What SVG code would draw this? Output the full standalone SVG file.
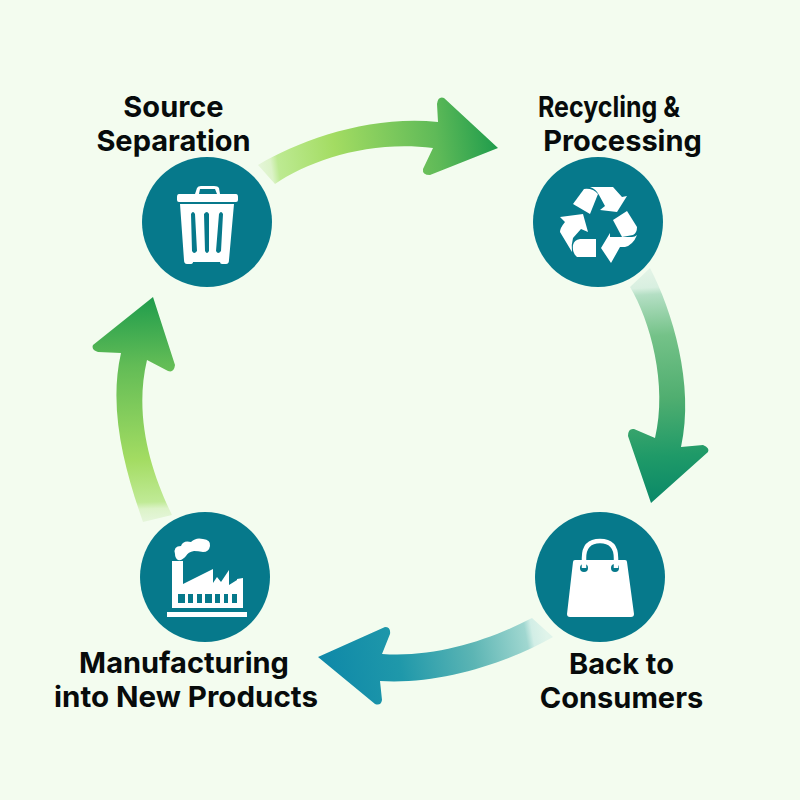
<svg xmlns="http://www.w3.org/2000/svg" width="800" height="800" viewBox="0 0 800 800">
<style>
.bg{fill:#f3fcef}
.disc{fill:#06798b}
.ic{fill:#fff}
.hole{fill:#06798b}
.lbl{font-family:Inter,"Liberation Sans",Arial,sans-serif;font-weight:700;font-size:29px;fill:#070b0b;text-anchor:middle}
</style>
<defs>
<linearGradient id="g1" gradientUnits="userSpaceOnUse" x1="258" y1="178" x2="498" y2="145"><stop offset="0" stop-color="#e6f6dc"/><stop offset=".06" stop-color="#dcf3c8"/><stop offset=".09" stop-color="#bdea92"/><stop offset=".33" stop-color="#a3dc62"/><stop offset=".75" stop-color="#5fba58"/><stop offset="1" stop-color="#1f9c4c"/></linearGradient>
<linearGradient id="g2" gradientUnits="userSpaceOnUse" x1="640" y1="272" x2="655" y2="503"><stop offset="0" stop-color="#e2f3e6"/><stop offset=".07" stop-color="#d8efe0"/><stop offset=".1" stop-color="#b4dfc4"/><stop offset=".28" stop-color="#74c288"/><stop offset=".55" stop-color="#50ae70"/><stop offset=".8" stop-color="#1f9a68"/><stop offset="1" stop-color="#0a8868"/></linearGradient>
<linearGradient id="g3" gradientUnits="userSpaceOnUse" x1="545" y1="625" x2="318" y2="665"><stop offset="0" stop-color="#e0f4ea"/><stop offset=".06" stop-color="#d2eee6"/><stop offset=".09" stop-color="#a0d7d0"/><stop offset=".33" stop-color="#5cb5b4"/><stop offset=".65" stop-color="#1f98aa"/><stop offset="1" stop-color="#0e88a8"/></linearGradient>
<linearGradient id="g4" gradientUnits="userSpaceOnUse" x1="158" y1="522" x2="150" y2="297"><stop offset="0" stop-color="#e6f6dc"/><stop offset=".06" stop-color="#dcf3c8"/><stop offset=".09" stop-color="#c0ea96"/><stop offset=".28" stop-color="#a3dc62"/><stop offset=".7" stop-color="#62bc56"/><stop offset="1" stop-color="#1f9c4c"/></linearGradient>
</defs>
<rect class="bg" width="800" height="800"/>
<g id="connectors">
<path fill="url(#g1)" d="M258 165C300 140 370 115 438 122L437 104Q438 96 444 98L498 148L430 175Q422 175 423 169L433 148C370 140 310 160 275 184Z"/>
<path fill="url(#g2)" d="M650 268C672 310 695 385 681 447L703 445Q710 448 708 452L651 503L628 436Q628 428 634 429L655 438C668 385 650 320 630 287Z"/>
<path fill="url(#g3)" d="M532 618C490 640 435 658 382 654L390 634Q391 627 385 627L318 657L375 704Q381 706 382 700L380 681C440 685 510 662 553 637Z"/>
<path fill="url(#g4)" d="M143 522C125 470 108 410 121 353L98 352Q91 350 93 345L153 297L175 365Q174 373 168 371L147 360C134 415 150 470 172 515Z"/>
</g>
<g id="source-separation">
<circle class="disc" cx="207" cy="222" r="65"/>
<path class="ic" fill-rule="evenodd" d="M195 194L197 188Q198 186 201 186H214Q218 186 219 188L220 194H236Q238 194 238 197V200Q238 202 236 202H179Q177 202 177 200V197Q177 194 179 194ZM199 194H217L215 189H200Z"/>
<path class="ic" fill-rule="evenodd" d="M180 204H234L229 260Q229 264 226 264H222Q220 264 220 262H193Q193 264 190 264H187Q184 264 184 260ZM191 214L192 251Q194 255 197 251L195 214Q193 210 191 214ZM204 214L205 251Q207 255 209 251L209 214Q207 210 204 214ZM219 214L216 251Q218 255 221 251L223 214Q221 210 219 214Z"/>
</g>
<g id="recycling">
<circle class="disc" cx="598" cy="222" r="65"/>
<path class="ic" d="M590 187H613L622 197L627 196L617 212L600 210L605 206L599 195Q596 189 590 187Z"/>
<path class="ic" d="M573 204L584 189Q593 188 598 194L590 214Z"/>
<path class="ic" d="M613 220L627 211L637 227Q637 233 633 235L622 237Z"/>
<path class="ic" d="M637 235Q633 245 625 247H620L611 263L601 248L610 233V237H632Q635 237 637 235Z"/>
<path class="ic" d="M573 245Q572 253 577 257H596V239H580Q574 240 573 245Z"/>
<path class="ic" d="M560 217L583 214L588 232L581 229L573 238Q571 245 572 252L560 232Q560 228 565 222Z"/>
</g>
<g id="manufacturing">
<circle class="disc" cx="205" cy="577" r="65"/>
<path class="ic" d="M175 554Q173 546 181 546Q183 540 191 542Q196 537 203 539Q211 540 210 546Q209 552 203 552Q198 551 194 551Q188 552 186 556Q182 561 178 560Q175 558 175 554Z"/>
<path class="ic" d="M172 561H183V584L213 569V583L217 577L221 582L229 570V585L237 580V579L243 578V608H172Z"/>
<rect class="ic" x="167" y="612" width="80" height="5"/>
<g class="hole"><rect x="178" y="594" width="7" height="9"/><rect x="188" y="594" width="5" height="9"/><rect x="197" y="594" width="5" height="9"/><rect x="205" y="594" width="7" height="9"/><rect x="215" y="594" width="5" height="9"/><rect x="224" y="594" width="4" height="9"/><rect x="232" y="594" width="5" height="9"/></g>
</g>
<g id="back-to-consumers">
<circle class="disc" cx="600" cy="577" r="65"/>
<path class="ic" d="M575 560H625Q627 560 627 562L634 614Q634 617 631 617H570Q567 617 567 614L573 562Q573 560 575 560Z"/>
<circle class="hole" cx="584" cy="568" r="4"/><circle class="hole" cx="615" cy="568" r="4"/>
<path fill="none" stroke="#fff" stroke-width="4.500" d="M584 568V558Q584 541 600 541Q616 541 616 558V568"/>
</g>
<g id="labels">
<text class="lbl" x="173.500" y="116.500">Source</text>
<text class="lbl" x="173.500" y="150.500">Separation</text>
<text class="lbl" x="609" y="116.500" textLength="142" lengthAdjust="spacingAndGlyphs">Recycling &amp;</text>
<text class="lbl" x="622.500" y="150.500">Processing</text>
<text class="lbl" x="184" y="672.500">Manufacturing</text>
<text class="lbl" x="186" y="706.500" textLength="264" lengthAdjust="spacingAndGlyphs">into New Products</text>
<text class="lbl" x="621.500" y="673.500">Back to</text>
<text class="lbl" x="621.500" y="707.500">Consumers</text>
</g>
</svg>
